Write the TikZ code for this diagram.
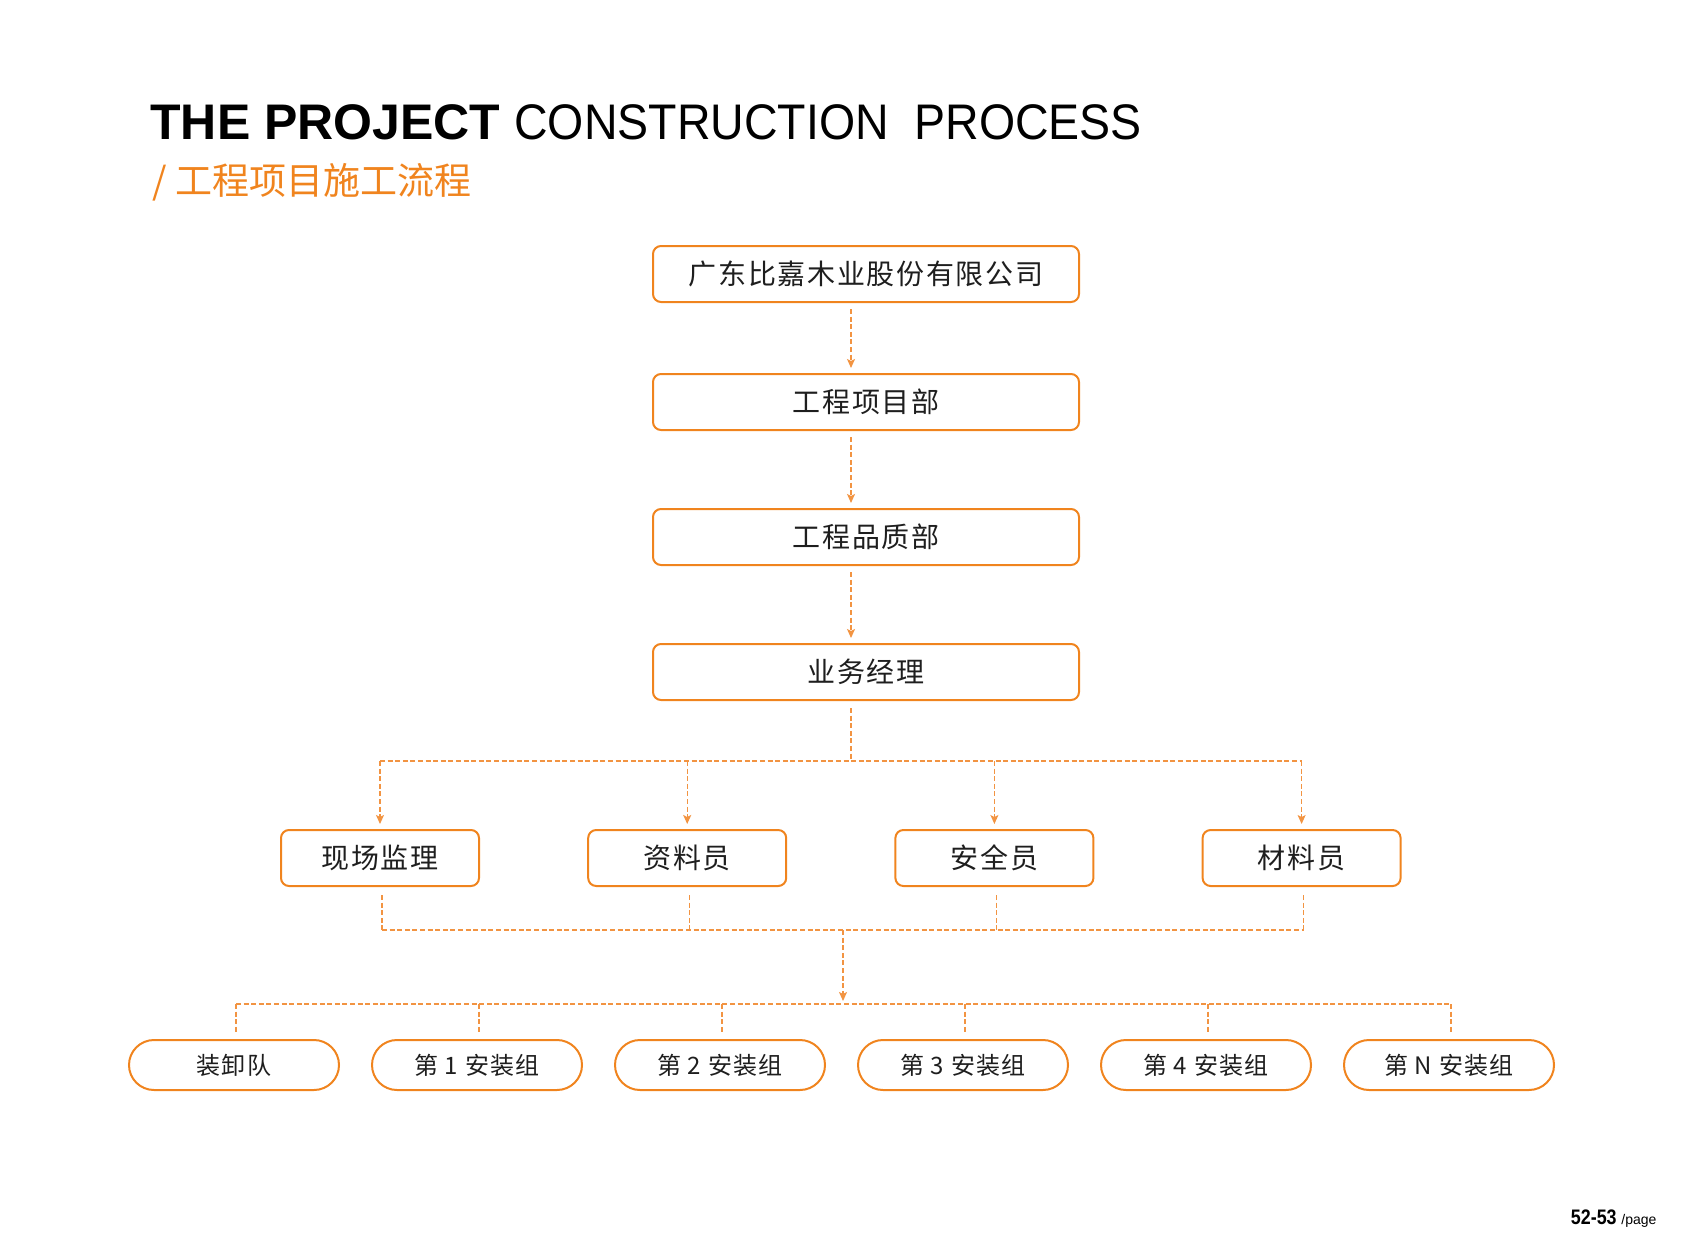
\documentclass[tikz,border=0pt]{standalone}
\usepackage{fontspec}
\setmainfont{Liberation Sans}
\newfontfamily\cjk[LetterSpace=6]{Noto Sans CJK SC}
\newfontfamily\cjksub{Noto Sans CJK SC}
\newfontfamily\thinlatin[FakeStretch=0.93]{Liberation Sans}
\newfontfamily\narrowbold[FakeStretch=0.85]{Liberation Sans}
\usetikzlibrary{arrows.meta, positioning, shapes.misc}
\definecolor{orangeline}{RGB}{240,132,30}
\definecolor{orangedash}{RGB}{242,148,66}
\definecolor{boxtext}{RGB}{30,30,30}

\begin{document}
\begin{tikzpicture}[
      x=0.5pt, y=-0.5pt,
      node distance = 15.5pt,
      block/.style={rectangle, draw=orangeline, line width=1pt, rounded corners=4pt, minimum width=213pt, minimum height=28pt, inner sep=0pt, text=boxtext, font=\cjk\fontsize{14}{14}\selectfont},
      staff/.style={block, minimum width=99pt},
      team/.style={rounded rectangle, draw=orangeline, line width=1pt, minimum width=105pt, minimum height=25pt, inner sep=0pt, text=boxtext, font=\cjk\fontsize{12}{12}\selectfont},
      link/.style={draw=orangedash, dash pattern=on 2.5pt off 1.3pt, line width=0.6pt},
      line/.style={link, -{Stealth[length=4.5pt, width=4pt, inset=1pt]}}
  ]
  \useasboundingbox (0,0) rectangle (1684,1241);

  % title
  \node [anchor=base west, inner sep=0pt, font=\bfseries\fontsize{25}{25}\selectfont] (title) at (150,140) {THE PROJECT};
  \node [right=6.5pt of title.base east, anchor=base west, inner sep=0pt, font=\thinlatin\fontsize{25}{25}\selectfont] (titlerest) {CONSTRUCTION\ \ PROCESS};
  \node [anchor=base west, inner sep=0pt, text=orangeline, font=\cjksub\fontsize{18.5}{18.5}\selectfont] (subtitle) at (152,195) {/ 工程项目施工流程};

  % main column
  \node [block] (company) at (866,274) {广东比嘉木业股份有限公司};
  \node [block] (project) at (866,402) {工程项目部};
  \node [block] (quality) at (866,537) {工程品质部};
  \node [block] (manager) at (866,672) {业务经理};

  \foreach \a/\b in {company/project, project/quality, quality/manager}
    \path [line, shorten <=3pt, shorten >=2.5pt] ([xshift=-7.5pt]\a.south) -- ([xshift=-7.5pt]\b.north);

  % staff row
  \node [staff] (supervisor) at (380,858) {现场监理};
  \node [staff, right=53.6pt of supervisor] (archivist) {资料员};
  \node [staff, right=53.6pt of archivist] (safety) {安全员};
  \node [staff, right=53.6pt of safety] (material) {材料员};

  \coordinate (fork) at (851,761);
  \path [link, shorten <=3.5pt] ([xshift=-7.5pt]manager.south) -- (fork);
  \path [link] (supervisor.north |- fork) -- (material.north |- fork);
  \foreach \n in {supervisor, archivist, safety, material}
    \path [line, shorten >=2.5pt] (\n.north |- fork) -- (\n.north);

  \coordinate (merge) at (843,930);
  \coordinate (teambar) at (843,1004);
  \foreach \n in {supervisor, archivist, safety, material}
    \path [link, shorten <=4pt] ([xshift=1pt]\n.south) -- ([xshift=1pt]\n.south |- merge);
  \path [link] ([xshift=1pt]supervisor.south |- merge) -- ([xshift=1pt]material.south |- merge);
  \path [line, shorten >=1.5pt] (merge) -- (teambar);

  % team row
  \node [team] (loading) at (234,1065) {装卸队};
  \node [team, right=of loading] (team1) {第 1 安装组};
  \node [team, right=of team1] (team2) {第 2 安装组};
  \node [team, right=of team2] (team3) {第 3 安装组};
  \node [team, right=of team3] (team4) {第 4 安装组};
  \node [team, right=of team4] (teamN) {第 N 安装组};

  \path [link] ([xshift=1pt]loading.north |- teambar) -- ([xshift=1pt]teamN.north |- teambar);
  \foreach \n in {loading, team1, team2, team3, team4, teamN}
    \path [link, shorten >=2.5pt] ([xshift=1pt]\n.north |- teambar) -- ([xshift=1pt]\n.north);

  % page number
  \node [anchor=base east, inner sep=0pt, font=\narrowbold\bfseries\fontsize{10.5}{10.5}\selectfont] (pagenum) at (1617,1224) {52-53};
  \node [right=2pt of pagenum.base east, anchor=base west, inner sep=0pt, font=\fontsize{7}{7}\selectfont] (pageword) {/page};

\end{tikzpicture}
\end{document}
